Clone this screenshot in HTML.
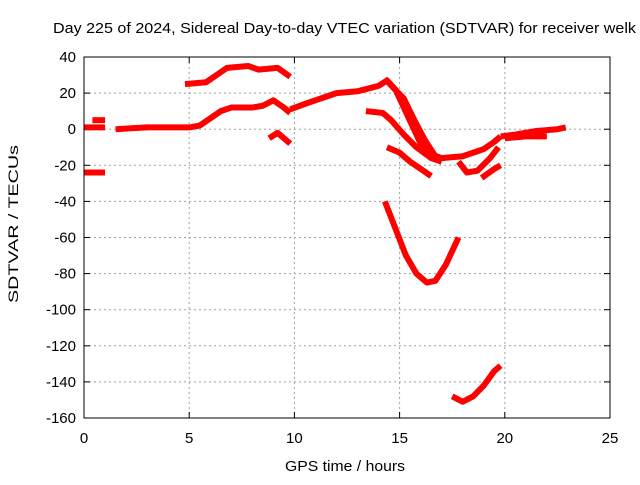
<!DOCTYPE html>
<html><head><meta charset="utf-8"><style>
body{margin:0;background:#fff}
svg text{font-family:"Liberation Sans",sans-serif;font-size:15px;fill:#000}
</style></head><body>
<svg id="chart" width="640" height="480" xmlns="http://www.w3.org/2000/svg">
<rect width="640" height="480" fill="#fff"/>
<text x="53" y="33" textLength="583" lengthAdjust="spacingAndGlyphs">Day 225 of 2024, Sidereal Day-to-day VTEC variation (SDTVAR) for receiver welk</text>
<g id="grid"></g>
<g id="ticks"></g>
<g id="series"></g>
<rect x="84" y="57" width="526" height="361" fill="none" stroke="#000" stroke-width="1"/>
<text x="285" y="471" textLength="120" lengthAdjust="spacingAndGlyphs">GPS time / hours</text>
<text transform="translate(18,303) rotate(-90)" style="font-size:14px" textLength="158" lengthAdjust="spacingAndGlyphs">SDTVAR / TECUs</text>
</svg>
<script>
const xTicks=[0,5,10,15,20,25];
const yTicks=[40,20,0,-20,-40,-60,-80,-100,-120,-140,-160];
const segments=[
[[0,1],[1,1]],
[[0.4,5],[1,5]],
[[0,-24],[1,-24]],
[[1.5,0],[3,1],[4,1],[5,1],[5.5,2],[6,6],[6.5,10],[7,12],[8,12],[8.5,13],[9,16],[9.5,12],[9.8,9]],
[[4.8,25],[5.8,26],[6.3,30],[6.8,34],[7.8,35],[8.3,33],[9.2,34],[9.8,29]],
[[8.8,-5],[9.2,-2],[9.8,-8]],
[[9.8,11],[10.5,14],[11,16],[12,20],[13,21],[14,24],[14.4,27],[14.8,22],[15.2,12],[15.6,2],[16,-8],[16.5,-14],[17,-16],[18,-15],[19,-11],[19.5,-7],[19.8,-4]],
[[14.3,28],[14.7,23],[15.2,17],[15.7,5],[16.2,-6],[16.7,-15]],
[[13.4,10],[14.2,9],[14.6,5],[15.2,-3],[15.8,-10],[16.5,-16],[17,-18]],
[[14.4,-10],[15,-13],[15.5,-18],[16,-22],[16.5,-26]],
[[14.3,-40],[14.8,-55],[15.3,-70],[15.8,-80],[16.3,-85],[16.7,-84],[17.2,-75],[17.8,-60]],
[[17.5,-148],[18,-151],[18.5,-148],[19,-142],[19.5,-134],[19.8,-131]],
[[17.8,-18],[18.2,-24],[18.7,-23],[19.3,-16],[19.7,-10]],
[[18.9,-27],[19.5,-22],[19.8,-20]],
[[19.8,-4],[20.5,-3],[21.5,-1],[22.5,0],[22.9,1]],
[[20,-5],[21,-4],[22,-4]]
];
const NS="http://www.w3.org/2000/svg";
const X=h=>84+h*526/25, Y=v=>57+(40-v)*361/200;
const grid=document.getElementById('grid'),ticks=document.getElementById('ticks'),ser=document.getElementById('series');
function mk(t,a,p){const e=document.createElementNS(NS,t);for(const k in a)e.setAttribute(k,a[k]);p.appendChild(e);return e;}
xTicks.forEach(t=>{const x=X(t);
 if(t>0&&t<25){const l=mk('line',{x1:x,x2:x,y1:57,y2:418,stroke:'#a0a0a0','stroke-dasharray':'2,3'},grid);}
 const tx=mk('text',{x:x,y:443,'text-anchor':'middle'},ticks);tx.textContent=t;
 
 mk('line',{x1:x,x2:x,y1:418,y2:412,stroke:'#000'},ticks);mk('line',{x1:x,x2:x,y1:57,y2:63,stroke:'#000'},ticks);});
yTicks.forEach(t=>{const y=Y(t);
 if(t<40&&t>-160){const l=mk('line',{x1:84,x2:610,y1:y,y2:y,stroke:'#a0a0a0','stroke-dasharray':'2,3'},grid);}
 const tx=mk('text',{x:76,y:y+5,'text-anchor':'end'},ticks);tx.textContent=t;
 
 mk('line',{x1:84,x2:90,y1:y,y2:y,stroke:'#000'},ticks);mk('line',{x1:610,x2:604,y1:y,y2:y,stroke:'#000'},ticks);});
segments.forEach(s=>{const p=mk('polyline',{points:s.map(d=>X(d[0])+','+Y(d[1])).join(' '),fill:'none',stroke:'#ff0000','stroke-width':6,'stroke-linejoin':'round'},ser);
 });
</script>
</body></html>
